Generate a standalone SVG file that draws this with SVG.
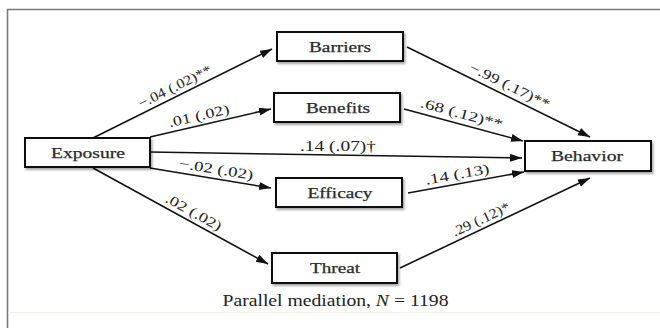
<svg xmlns="http://www.w3.org/2000/svg" width="660" height="328" viewBox="0 0 660 328">
<style>
.box{fill:#fff;stroke:#111;stroke-width:2}
.nl{font-family:"Liberation Serif","Times New Roman",serif;font-size:15px;fill:#2a2a2a;stroke:#2a2a2a;stroke-width:0.25;text-anchor:middle}
.el{font-family:"Liberation Serif","Times New Roman",serif;font-size:14px;fill:#222;text-anchor:middle}
.cap{font-family:"Liberation Serif","Times New Roman",serif;font-size:16px;fill:#222;text-anchor:middle}
.ln{stroke:#111;stroke-width:1.6;fill:none;marker-end:url(#ah)}
</style>
<defs>
<marker id="ah" markerUnits="userSpaceOnUse" markerWidth="13" markerHeight="9" refX="12" refY="4" orient="auto">
<path d="M0,0 L12,4 L0,8 Z" fill="#111"/>
</marker>
<filter id="sh" x="-10%" y="-20%" width="130%" height="160%">
<feDropShadow dx="1.5" dy="2" stdDeviation="1" flood-color="#000" flood-opacity="0.35"/>
</filter>
</defs>
<rect x="0" y="0" width="660" height="328" fill="#fff"/>
<path d="M7.5,328 V9.5 H660" fill="none" stroke="#7a7a7a" stroke-width="1.6"/>
<line x1="8.5" y1="312.5" x2="660" y2="312.5" stroke="#f2f2e4" stroke-width="1"/>

<g id="connectors">
<line class="ln" x1="93" y1="138" x2="272" y2="49"/>
<line class="ln" x1="150" y1="137" x2="271" y2="109"/>
<line class="ln" x1="150" y1="152" x2="522" y2="158"/>
<line class="ln" x1="150" y1="168" x2="271" y2="188"/>
<line class="ln" x1="93" y1="168" x2="268" y2="264"/>
<line class="ln" x1="407" y1="47" x2="590" y2="137"/>
<line class="ln" x1="404" y1="109" x2="523" y2="141"/>
<line class="ln" x1="408" y1="193" x2="524" y2="172"/>
<line class="ln" x1="400" y1="268" x2="590" y2="178"/>
<text class="el" transform="translate(179,95.2) rotate(-26.4)" y="-5" textLength="80" lengthAdjust="spacingAndGlyphs">−.04 (.02)**</text>
<text class="el" transform="translate(201,125.2) rotate(-13)" y="-5" textLength="62" lengthAdjust="spacingAndGlyphs">.01 (.02)</text>
<text class="el" x="338" y="151" textLength="76" lengthAdjust="spacingAndGlyphs">.14 (.07)†</text>
<text class="el" transform="translate(214.6,178.7) rotate(9.4)" y="-5" textLength="75" lengthAdjust="spacingAndGlyphs">−.02 (.02)</text>
<text class="el" transform="translate(189,220.7) rotate(28.7)" y="-5" textLength="62" lengthAdjust="spacingAndGlyphs">.02 (.02)</text>
<text class="el" transform="translate(505,95.2) rotate(26.2)" y="-6" textLength="88" lengthAdjust="spacingAndGlyphs">−.99 (.17)**</text>
<text class="el" transform="translate(459,123.8) rotate(15.05)" y="-6" textLength="85" lengthAdjust="spacingAndGlyphs">.68 (.12)**</text>
<text class="el" transform="translate(459,183.8) rotate(-10.3)" y="-5" textLength="65" lengthAdjust="spacingAndGlyphs">.14 (.13)</text>
<text class="el" transform="translate(485,228) rotate(-25.3)" y="-5" textLength="62" lengthAdjust="spacingAndGlyphs">.29 (.12)*</text>
</g>

<g id="barriers"><rect class="box" filter="url(#sh)" x="277" y="32" width="126" height="29"/><text class="nl" x="340" y="51.5" textLength="62" lengthAdjust="spacingAndGlyphs">Barriers</text></g>
<g id="benefits"><rect class="box" filter="url(#sh)" x="274" y="93" width="126" height="29"/><text class="nl" x="338" y="112.5" textLength="64" lengthAdjust="spacingAndGlyphs">Benefits</text></g>
<g id="exposure"><rect class="box" filter="url(#sh)" x="25" y="138" width="125" height="29"/><text class="nl" x="88" y="157.5" textLength="74" lengthAdjust="spacingAndGlyphs">Exposure</text></g>
<g id="behavior"><rect class="box" filter="url(#sh)" x="525" y="141" width="126" height="30"/><text class="nl" x="587" y="161" textLength="72" lengthAdjust="spacingAndGlyphs">Behavior</text></g>
<g id="efficacy"><rect class="box" filter="url(#sh)" x="276" y="178" width="126" height="29"/><text class="nl" x="340" y="197.5" textLength="65" lengthAdjust="spacingAndGlyphs">Efficacy</text></g>
<g id="threat"><rect class="box" filter="url(#sh)" x="272" y="253" width="125" height="30"/><text class="nl" x="335" y="273" textLength="50" lengthAdjust="spacingAndGlyphs">Threat</text></g>

<text class="cap" x="335.5" y="305.5" textLength="226" lengthAdjust="spacingAndGlyphs">Parallel mediation, <tspan font-style="italic">N</tspan> = 1198</text>
</svg>
